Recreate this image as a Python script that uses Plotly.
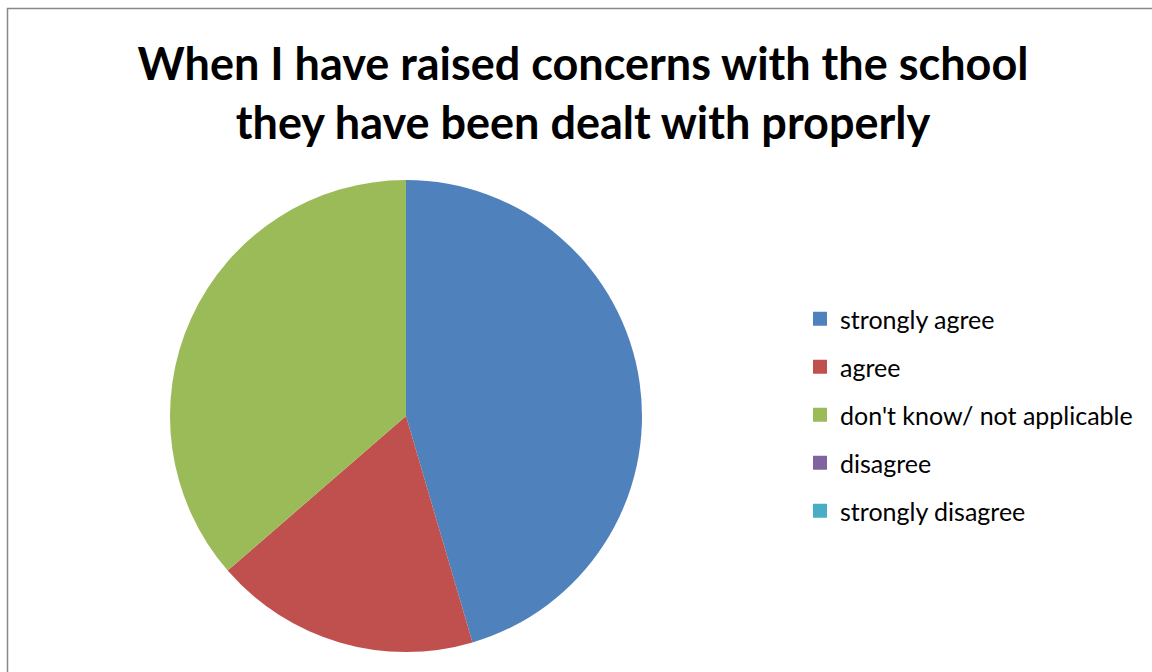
import plotly.graph_objects as go

title_lines = ["When I have raised concerns with the school", "they have been dealt with properly"]
categories = ["strongly agree", "agree", "don't know/ not applicable", "disagree", "strongly disagree"]
values = [5, 2, 4, 0, 0]
colors = ["#4F81BD", "#C0504D", "#9BBB59", "#8064A2", "#4BACC6"]

W, H = 1152, 672
cx, cy, r = 406, 416, 236

fig = go.Figure()
fig.add_trace(go.Pie(
    labels=categories, values=values, sort=False, direction="clockwise", rotation=0,
    marker=dict(colors=colors, line=dict(width=0)),
    textinfo="none", hoverinfo="label+value", showlegend=False,
    domain=dict(x=[(cx - r) / W, (cx + r) / W], y=[1 - (cy + r) / H, 1 - (cy - r) / H]),
))
for i, (c, col) in enumerate(zip(categories, colors)):
    fig.add_trace(go.Scatter(
        x=[None], y=[None], mode="markers", name=c, legendgroup=str(i),
        marker=dict(symbol="square", size=14, color=col), showlegend=True,
    ))

fig.update_layout(
    width=W, height=H,
    margin=dict(l=0, r=0, t=0, b=0),
    paper_bgcolor="white", plot_bgcolor="white",
    font=dict(family="Lato, 'Open Sans', sans-serif", color="#000000"),
    title=dict(text="<b>" + "<br>".join(title_lines) + "</b>", x=583 / W, xanchor="center",
               y=1 - 80 / H, yanchor="middle", font=dict(size=45, color="#000000")),
    xaxis=dict(visible=False), yaxis=dict(visible=False),
    legend=dict(x=800 / W, xanchor="left", y=1 - 415 / H, yanchor="middle",
                font=dict(size=25, color="#000000"), traceorder="grouped",
                tracegroupgap=12.5, itemsizing="trace", bgcolor="rgba(0,0,0,0)"),
    shapes=[dict(type="rect", xref="paper", yref="paper", x0=7.5 / W, x1=1.2, y0=-0.2, y1=1 - 8.5 / H,
                 line=dict(color="#898989", width=1.5), fillcolor="rgba(0,0,0,0)", layer="below")],
)
fig.write_html("out.html", config={"displayModeBar": False},
               post_script="document.body.style.margin='0';")
